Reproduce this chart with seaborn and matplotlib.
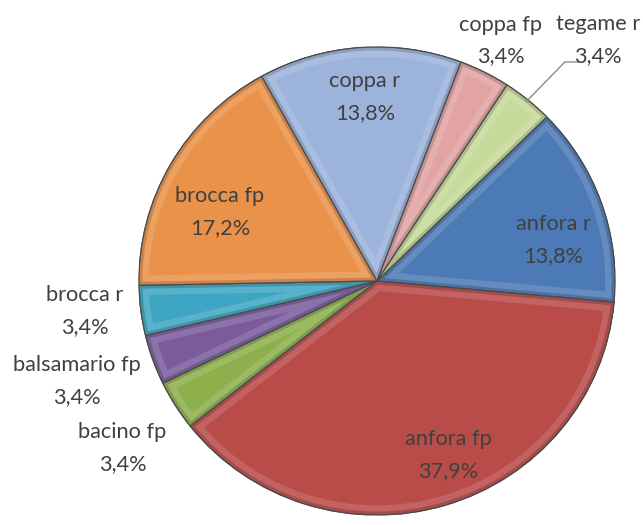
import numpy as np
import matplotlib.pyplot as plt
import matplotlib.colors as mcolors
from matplotlib.patches import Wedge
import seaborn as sns

# dati del grafico (ordine delle fette in senso orario)
categorie = ['anfora r', 'anfora fp', 'bacino fp', 'balsamario fp', 'brocca r',
             'brocca fp', 'coppa r', 'coppa fp', 'tegame r']
conteggi = [4, 11, 1, 1, 1, 5, 4, 1, 1]
colori = ['#4C7AB6', '#B94B49', '#8DB04C', '#7A5C9D', '#3EA6C3',
          '#EA914A', '#9CB3DC', '#E2A3A3', '#C6DA9A']

# posizione delle etichette: raggio, scarto angolare (gradi, senso orario), allineamento
lab_r = [0.76, 0.80, 1.287, 1.33, 1.234, 0.723, 0.788, 1.152, 1.51]
lab_da = [6.4, -5.3, -1.7, 1.0, 1.2, -5.9, 0.5, 0, 7.7]
lab_ha = ['center'] * 8 + ['right']

sns.set_theme(style='white')
plt.rcParams['font.family'] = ['Lato', 'DejaVu Sans']

totale = sum(conteggi)
percentuali = [f'{c / totale * 100:.1f}%'.replace('.', ',') for c in conteggi]

fig = plt.figure(figsize=(6.43, 5.25), dpi=100)
ax = fig.add_axes([139 / 643, 10 / 525, 476 / 643, 468 / 525])

wedges, _ = ax.pie(conteggi, colors=colori, startangle=44.5, counterclock=False,
                   radius=1, wedgeprops=dict(edgecolor='#3a3a3a', linewidth=0.9))

# effetto smussato: bordo interno chiaro e scuro ritagliato sulla fetta
for w, col in zip(wedges, colori):
    rgb = mcolors.to_rgb(col)
    chiaro = tuple(min(1, c * 0.75 + 0.25) for c in rgb)
    scuro = tuple(c * 0.72 for c in rgb)
    for lw, c, a in [(14, chiaro, 0.55), (5, scuro, 0.5)]:
        bordo = Wedge(w.center, w.r, w.theta1, w.theta2, facecolor='none',
                      edgecolor=c, linewidth=lw, alpha=a)
        ax.add_patch(bordo)
        bordo.set_clip_path(w)
    ax.add_patch(Wedge(w.center, w.r, w.theta1, w.theta2, facecolor='none',
                       edgecolor='#4a4a4a', linewidth=0.8))

for i, w in enumerate(wedges):
    mid = np.deg2rad((w.theta1 + w.theta2) / 2 - lab_da[i])
    x, y = lab_r[i] * np.cos(mid), lab_r[i] * np.sin(mid)
    ax.text(x, y, f'{categorie[i]}\n{percentuali[i]}', ha=lab_ha[i], va='center',
            multialignment='center', fontsize=15.7, color='#404040', linespacing=1.75)
    if categorie[i] == 'tegame r':
        mid0 = np.deg2rad((w.theta1 + w.theta2) / 2)
        p0 = (0.99 * np.cos(mid0), 0.99 * np.sin(mid0))
        p2 = (x - 0.256, y - 0.094)
        p1 = (p2[0] - 0.059, p2[1])
        ax.plot([p0[0], p2[0] - 0.059, p2[0]], [p0[1], p1[1], p2[1]], color='#8c8c8c', lw=1)

ax.set_xlim(-1, 1)
ax.set_ylim(-1, 1)
ax.set_aspect('auto')
ax.axis('off')

fig.savefig('out.png', dpi=100)
